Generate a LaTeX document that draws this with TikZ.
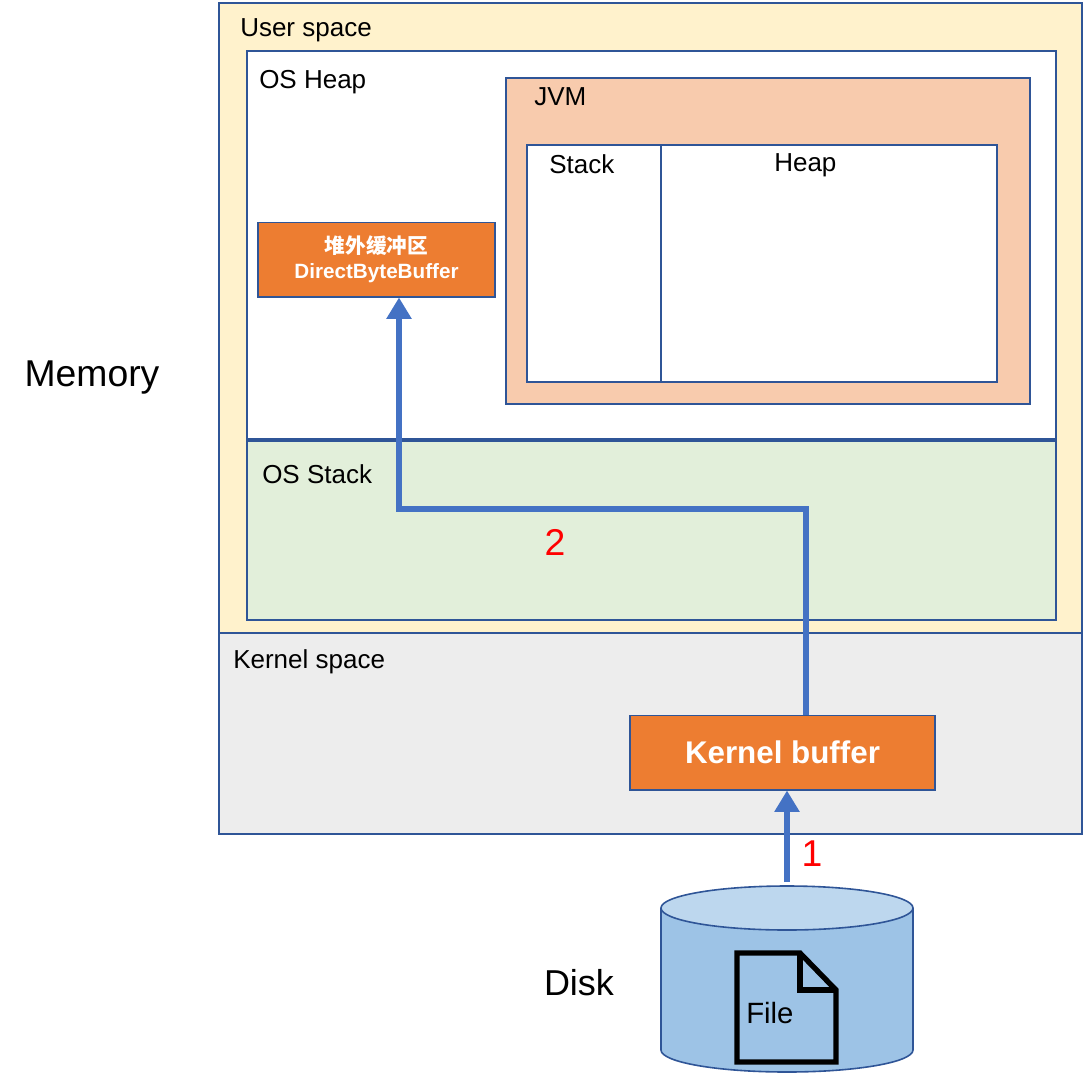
\documentclass[tikz,border=0pt]{standalone}
\usepackage{fontspec}
\setmainfont{Liberation Sans}
\newfontfamily\cjk{Noto Sans CJK SC}
\usetikzlibrary{arrows.meta}
\definecolor{bd}{HTML}{2F5597}
\definecolor{ar}{HTML}{4472C4}
\definecolor{org}{HTML}{ED7D31}
\definecolor{usr}{HTML}{FFF2CC}
\definecolor{dsk}{RGB}{157,195,230}
\tikzset{
  box/.style={draw=bd, line width=1.2pt},
  lbl/.style={anchor=north west, inner sep=0pt, font=\fontsize{19.5}{21}\selectfont},
  obox/.style={draw=bd, line width=1pt, fill=org, text=white, font=\bfseries, align=center},
  flow/.style={draw=ar, line width=4.5pt, -{Triangle[length=16pt,width=18pt]}},
}
\begin{document}
\begin{tikzpicture}[x=0.75pt,y=-0.75pt]
\useasboundingbox (0,0) rectangle (1083,1083);
\draw[box, fill=usr] (219,3) rectangle (1082,633);
\draw[box, fill={rgb,255:red,237;green,237;blue,237}] (219,633) rectangle (1082,834);
\draw[box, fill=white] (247,51) rectangle (1056,439);
\draw[box, fill={rgb,255:red,226;green,239;blue,218}] (247,441) rectangle (1056,620);
\draw[box, fill={rgb,255:red,248;green,203;blue,173}] (506,78) rectangle (1030,404);
\draw[box, fill=white] (527,145) rectangle (997,382);
\draw[box] (661,145) -- (661,382);
\node[lbl] (us) at (240,18) {User space};
\node[lbl] (oh) at (259,70) {OS Heap};
\node[lbl] (jvm) at (534,87) {JVM};
\node[lbl] (st) at (549,154) {Stack};
\node[lbl] (hp) at (774,153) {Heap};
\node[lbl] (os) at (262,464) {OS Stack};
\node[lbl] (ks) at (233,649) {Kernel space};
\node[obox, minimum width=177.75pt, minimum height=56pt, font=\bfseries\fontsize{15.5}{19}\selectfont] (dbb) at (376.5,259.5) {{\cjk 堆外缓冲区}\\DirectByteBuffer};
\node[obox, minimum width=228.75pt, minimum height=56pt, font=\bfseries\fontsize{23.5}{24}\selectfont] (kb) at (782.5,752.5) {Kernel buffer};
\node[font=\fontsize{28}{30}\selectfont] (mem) at (92,378) {Memory};
\node[font=\fontsize{27}{29}\selectfont] (disk) at (579,983) {Disk};
% disk cylinder
\draw[box, fill=dsk] (661,908) -- (661,1050) arc[start angle=180,end angle=0,x radius=126,y radius=22] -- (913,908);
\draw[box, fill={rgb,255:red,189;green,215;blue,238}] (787,908) ellipse[x radius=126, y radius=22];
\coordinate (dtop) at (787,882);
% file icon
\draw[line width=4pt, line join=miter, fill=dsk] (737,953) -- (800,953) -- (836,990) -- (836,1062) -- (737,1062) -- cycle;
\draw[line width=4pt] (800,953) -- (800,990) -- (836,990);
\node[anchor=west, inner sep=0pt, font=\fontsize{22}{24}\selectfont] (file) at (746,1013) {File};
% arrows
\draw[flow] (dtop) -- (kb.south -| dtop);
\node[text=red, font=\fontsize{28}{30}\selectfont] (n1) at (812,854) {1};
\coordinate (k2) at (806,715);
\draw[flow] (k2) -- (806,509) -- (399,509) -- (dbb.south -| 399,0);
\node[text=red, font=\fontsize{28}{30}\selectfont] (n2) at (555,542) {2};
\end{tikzpicture}
\end{document}
